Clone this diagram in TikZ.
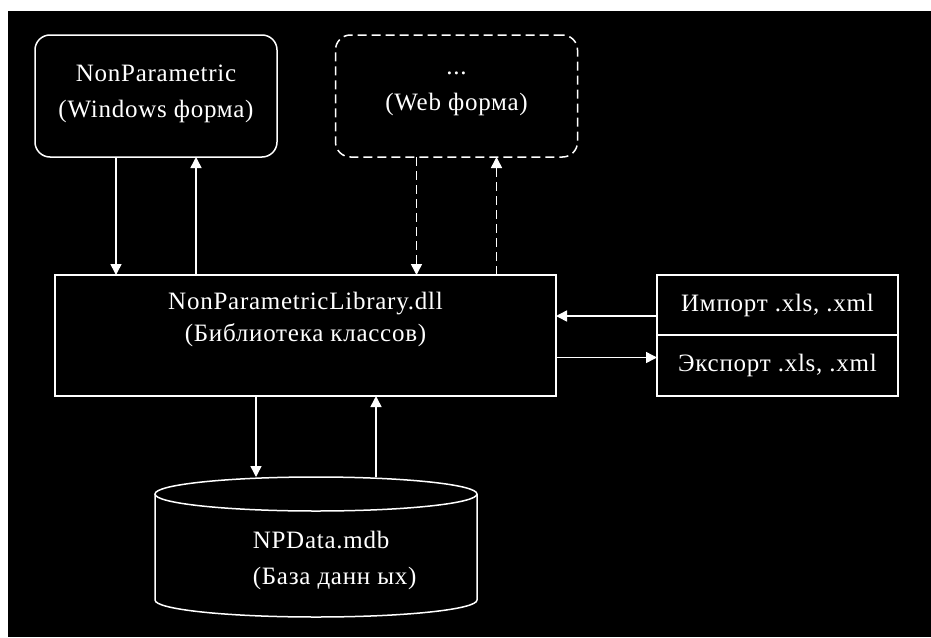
\documentclass[tikz,border=0pt]{standalone}
\usepackage{fontspec}
\setmainfont{Liberation Serif}[LetterSpace=3]
\usetikzlibrary{arrows.meta}
\usetikzlibrary{calc,positioning}

\begin{document}
\begin{tikzpicture}[x=1pt,y=-1pt,white,line width=1.5pt,
  font=\fontsize{25}{36}\selectfont]
    \tikzstyle{form}=[draw, rounded corners=15pt, minimum width=242pt, minimum height=122pt,
      align=center, inner sep=0pt, outer sep=0pt]
    \tikzstyle{block}=[draw, align=center, inner sep=0pt, outer sep=0pt]
    \tikzstyle{arr}=[-{Triangle[width=11pt,length=11pt]}]
    \tikzstyle{dashline}=[dash pattern=on 9pt off 5pt]

    % background
    \useasboundingbox (0,0) rectangle (931,637);
    \fill[white] (0,0) rectangle (931,637);
    \fill[black] (8,11) rectangle (931,637);

    \node[form]  (win) at (156,96)    {NonParametric\\(Windows форма)\\[-26pt]\mbox{}};
    \node[form, dashline]
                 (web) at (456.5,96)  {...\\(Web форма)\\[-26pt]\mbox{}};
    \node[block, minimum width=501pt, minimum height=121pt]
                 (lib) at (305.5,335.5) {NonParametricLibrary.dll\\[-4pt](Библиотека классов)\\[1pt]\mbox{}};
    \node[block, minimum width=241pt, minimum height=60pt]
                 (imp) at (777.5,305) {Импорт .xls, .xml};
    \node[block, minimum width=241pt, minimum height=61pt, below=0pt of imp]
                 (exp) {Экспорт .xls, .xml};

    % database drum
    \node[minimum width=322pt, minimum height=140pt, inner sep=0pt, outer sep=0pt] (db) at (316,547) {};
    \draw ([yshift=-17pt]db.north west) -- ([yshift=17pt]db.south west)
      arc[start angle=180, end angle=360, x radius=161pt, y radius=17pt]
      -- ([yshift=-17pt]db.north east);
    \draw ([yshift=-17pt]db.north) ellipse[x radius=161pt, y radius=17pt];
    \node[align=left, anchor=west, inner sep=0pt] (dbtext) at (252,560) {NPData.mdb\\(База данн ых)};

    % forms
    \draw[arr] ([xshift=-40pt]win.south) -- ([xshift=-40pt]win.south |- lib.north);
    \draw[arr] ([xshift=40pt]win.south |- lib.north) -- ([xshift=40pt]win.south);
    \draw[arr, dashline] ([xshift=-40pt]web.south) -- ([xshift=-40pt]web.south |- lib.north);
    \draw[arr, dashline] ([xshift=40pt]web.south |- lib.north) -- ([xshift=40pt]web.south);

    % import / export
    \draw[arr] ([yshift=-11pt]imp.west) -- ([yshift=-11pt]imp.west -| lib.east);
    \draw[arr] ([yshift=8pt]exp.west -| lib.east) -- ([yshift=8pt]exp.west);

    % database
    \draw[arr] ([xshift=-60pt]db.north |- lib.south) -- ([xshift=-60pt]db.north);
    \draw[arr] ([xshift=60pt]db.north) -- ([xshift=60pt]db.north |- lib.south);
\end{tikzpicture}
\end{document}
